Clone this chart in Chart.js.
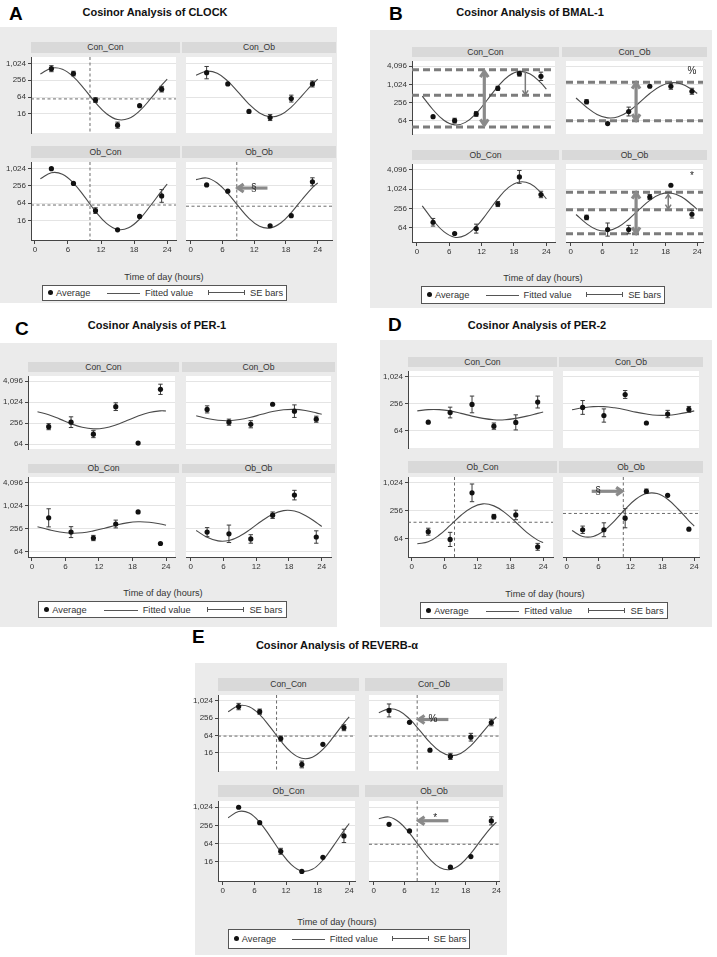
<!DOCTYPE html>
<html>
<head>
<meta charset="utf-8">
<title>Cosinor analysis</title>
<script src="https://cdn.jsdelivr.net/npm/chart.js@4.4.1/dist/chart.umd.min.js"></script>
<style>
  body { margin: 0; width: 717px; height: 957px; position: relative; overflow: hidden; background: #fff;
         font-family: "Liberation Sans", Arial, Helvetica, sans-serif; color: #222; }
  .abs { position: absolute; }
  .bg { background: #ebebeb; }
  .hdr { background: #d9d9d9; text-align: center; font-size: 8.6px; color: #333; }
  .letter { font-size: 19px; line-height: 19px; font-weight: bold; color: #000; }
  .title { font-size: 11px; font-weight: bold; transform: translate(-50%, -50%); white-space: nowrap; color: #111; }
  .xtitle { font-size: 9.2px; transform: translate(-50%, -50%); white-space: nowrap; color: #333; }
  .legend { background: #fff; border: 1px solid #555; box-sizing: border-box; }
  .legend span { position: absolute; top: 50%; }
  .legend .lt { font-size: 9.3px; transform: translateY(-50%); white-space: nowrap; color: #333; }
  .legend .dot { width: 5px; height: 5px; border-radius: 50%; background: #111; margin-top: -3px; }
  .legend .ln { height: 1px; background: #555; }
  .legend .se { height: 5px; margin-top: -3px; border-left: 1px solid #555; border-right: 1px solid #555;
                box-sizing: border-box;
                background: linear-gradient(#555, #555) center / 100% 1px no-repeat; }
  canvas { position: absolute; }
</style>
</head>
<body>
<script>
/* ── DATA ───────────────────────────────────────────────────────── */
const HOURS = [3, 7, 11, 15, 19, 23];
const FIT_HOURS = [1, 3, 5, 7, 9, 11, 13, 15, 17, 19, 21, 23, 24];
const GROUPS = ['Con_Con', 'Con_Ob', 'Ob_Con', 'Ob_Ob'];
const X_TICKS = [0, 6, 12, 18, 24];

// one row per group (Con_Con, Con_Ob, Ob_Con, Ob_Ob); SE = top end of the bar
const clockAvg = [
  [667, 446, 50, 6.3, 31.6, 123],
  [481, 189, 19.6, 11.8, 56.5, 189],
  [1024, 313, 35, 7.5, 22, 114],
  [276, 167, null, 10.4, 23.4, 355]
];
const clockSE = [
  [855, 540, 61, 8.1, null, 155],
  [800, null, null, 15.1, 75, 242],
  [null, null, 44, null, null, 190],
  [null, null, null, null, null, 491]
];
const clockFit = [
  [428, 695, 635, 338, 124, 40.5, 16.2, 10, 10.9, 20.5, 56, 171, 282],
  [391, 541, 455, 240, 95, 36, 17.3, 12.5, 14.8, 28, 71, 186, 280],
  [455, 739, 653, 322, 108, 33, 12.6, 7.7, 8.8, 17.8, 53, 172, 294],
  [425, 484, 324, 141, 50, 18.9, 9.9, 8.7, 13, 30, 84, 223, 324]
];

const bmalAvg = [
  [88, 65, 108, 760, 2320, 1900],
  [274, 52, 130, 891, 891, 609],
  [96, 43, 61, 352, 2430, 695],
  [135, 57, 57, 580, 1340, 170]
];
const bmalSE = [
  [null, 78, 129, 891, 2780, 2610],
  [322, null, 182, null, 1120, 765],
  [126, null, 84, 422, 3850, 873],
  [159, 91, 77, 695, null, 223]
];
const bmalFit = [
  [422, 149, 67, 47, 57, 113, 307, 867, 1940, 2760, 2270, 1145, 714],
  [364, 181, 104, 80, 87, 133, 254, 512, 891, 1160, 1060, 695, 512],
  [309, 111, 49, 33, 38, 70, 182, 508, 1150, 1700, 1490, 798, 508],
  [167, 87, 56, 52, 68, 119, 239, 458, 704, 771, 588, 335, 239]
];

const per1Avg = [
  [202, 272, 123, 760, 68, 2400],
  [635, 272, 237, 891, 564, 331],
  [491, 207, 145, 338, 700, 104],
  [207, 187, 137, 576, 1940, 154]
];
const per1SE = [
  [247, 388, 155, 982, null, 3370],
  [803, 333, 300, null, 855, 405],
  [849, 288, 170, 428, null, null],
  [272, 317, 177, 700, 2590, 224]
];
const per1Fit = [
  [545, 446, 333, 246, 194, 175, 185, 226, 302, 410, 519, 576, 572],
  [416, 347, 309, 300, 324, 377, 458, 549, 617, 635, 588, 505, 458],
  [288, 241, 208, 194, 199, 223, 261, 313, 362, 388, 377, 338, 313],
  [228, 152, 122, 125, 163, 251, 407, 609, 760, 739, 568, 370, 290]
];

const per2Avg = [
  [98, 161, 244, 80, 97, 276],
  [209, 138, 407, 94, 149, 189],
  [91, 62, 621, 191, 208, 43],
  [100, 100, 177, 671, 549, 103]
];
const per2SE = [
  [null, 212, 375, 94, 143, 375],
  [298, 194, 498, null, 180, 220],
  [108, 88, 962, 214, 263, 51],
  [120, 141, 284, 750, null, null]
];
const per2Fit = [
  [175, 187, 187, 175, 154, 134, 119, 111, 111, 119, 134, 154, 165],
  [186, 205, 218, 218, 205, 186, 164, 149, 140, 140, 149, 164, 175],
  [50, 55, 77, 124, 205, 302, 360, 326, 234, 145, 88, 60, 53],
  [96, 72, 72, 96, 156, 276, 452, 600, 600, 452, 276, 156, 120]
];

const reverbAvg = [
  [650, 430, 49, 6.1, 31, 118],
  [475, 182, 19.3, 11.7, 55, 180],
  [1024, 313, 35, 7.5, 22, 114],
  [276, 167, null, 10.4, 23.4, 360]
];
const reverbSE = [
  [840, 530, 60, 8, null, 150],
  [800, null, null, 15, 75, 235],
  [null, null, 44, null, null, 190],
  [null, null, null, null, null, 491]
];
const reverbFit = [
  [428, 695, 635, 338, 124, 40.5, 16.2, 10, 10.9, 20.5, 56, 171, 282],
  [391, 541, 455, 240, 95, 36, 17.3, 12.5, 14.8, 28, 71, 186, 280],
  [455, 739, 653, 322, 108, 33, 12.6, 7.7, 8.8, 17.8, 53, 172, 294],
  [425, 484, 324, 141, 50, 18.9, 9.9, 8.7, 13, 30, 84, 223, 324]
];

// reference lines, arrows and symbols, in data units (hour, value)
const clockMarks = [
  { vline: 10, hline: 55 },
  {},
  { vline: 10, hline: 55 },
  { vline: 8.7, hline: 50, arrows: [[14.5, 215, 8.9, 215, 'end', 'big']], text: [['§', 11.9, 215]] }
];
const bmalMarks = [
  { bands: [3120, 452, 40], arrows: [[12.5, 2780, 12.5, 46, 'both', 'big'], [20.1, 2640, 20.1, 474, 'end', 'small']] },
  { bands: [1200, 65], arrows: [[12.4, 1150, 12.4, 68, 'both', 'big']], text: [['%', 23, 2780]] },
  {},
  { bands: [815, 234, 42], arrows: [[12.4, 780, 12.4, 44, 'both', 'big'], [18.5, 695, 18.5, 250, 'both', 'small']], text: [['*', 23, 2600]] }
];
const per1Marks = [{}, {}, {}, {}];
const per2Marks = [
  {}, {},
  { vline: 7.8, hline: 145 },
  { vline: 10.65, hline: 224, arrows: [[4.7, 671, 10.4, 671, 'end', 'big']], text: [['§', 5.9, 671]] }
];
const reverbMarks = [
  { vline: 10.2, hline: 60 },
  { vline: 8.5, hline: 60, arrows: [[14.6, 229, 8.8, 229, 'end', 'big']], text: [['%', 11.6, 229]] },
  {},
  { vline: 8.5, hline: 60, arrows: [[14.6, 364, 8.8, 364, 'end', 'big']], text: [['*', 12, 440]] }
];

/* ── PAGE LAYOUT ─────────────────────────────────────────────── */
const PANELS = [
  { letter: 'A', title: 'Cosinor Analysis of CLOCK', avg: clockAvg, se: clockSE, fit: clockFit, marks: clockMarks,
    yTicks: [16, 64, 256, 1024], yRange: [3.3, 1750],
    box: [0, 27, 337, 276], letterAt: [9, 4], titleAt: [155, 12],
    cols: [[31, 180, -0.7, 25.6], [182, 336, -0.9, 26.7]],
    rows: [[42, 53, 137], [146, 158, 240]],
    xTitleAt: [164, 277], legendBox: [42, 285, 245, 16] },
  { letter: 'B', title: 'Cosinor Analysis of BMAL-1', avg: bmalAvg, se: bmalSE, fit: bmalFit, marks: bmalMarks,
    yTicks: [64, 256, 1024, 4096], yRange: [23.5, 6100],
    box: [370, 30, 342, 278], letterAt: [389, 4], titleAt: [530, 12],
    cols: [[412, 559, -0.9, 25.6], [562, 707, -0.9, 25.1]],
    rows: [[47, 57, 138], [150, 160, 242]],
    xTitleAt: [543, 278], legendBox: [421, 286, 244, 18] },
  { letter: 'C', title: 'Cosinor Analysis of PER-1', avg: per1Avg, se: per1SE, fit: per1Fit, marks: per1Marks,
    yTicks: [64, 256, 1024, 4096], yRange: [46, 5800],
    box: [0, 343, 337, 284], letterAt: [15, 319], titleAt: [157, 325],
    cols: [[28, 179, -0.7, 25.6], [182, 335, -0.87, 25.7]],
    rows: [[362, 372, 453], [464, 473, 557]],
    xTitleAt: [163, 593], legendBox: [38, 601, 249, 17] },
  { letter: 'D', title: 'Cosinor Analysis of PER-2', avg: per2Avg, se: per2SE, fit: per2Fit, marks: per2Marks,
    yTicks: [64, 256, 1024], yRange: [26, 1360],
    box: [380, 340, 332, 287], letterAt: [388, 315], titleAt: [537, 325],
    cols: [[408, 557, -0.7, 25.8], [559, 703, -0.7, 24.9]],
    rows: [[357, 367, 452], [461, 473, 557]],
    xTitleAt: [545, 594], legendBox: [420, 602, 248, 17] },
  { letter: 'E', title: 'Cosinor Analysis of REVERB-α', avg: reverbAvg, se: reverbSE, fit: reverbFit, marks: reverbMarks,
    yTicks: [16, 64, 256, 1024], yRange: [3.6, 1650],
    box: [195, 663, 312, 292], letterAt: [192, 627], titleAt: [337, 645],
    cols: [[218, 359, -0.92, 25.1], [365, 503, -0.92, 24.5]],
    rows: [[678, 691, 775], [785, 797, 881]],
    xTitleAt: [337, 922], legendBox: [228, 929, 242, 20] }
];

function el(cls, x, y, w, h, html) {
  const d = document.createElement('div');
  d.className = 'abs ' + cls;
  d.style.left = x + 'px';
  d.style.top = y + 'px';
  if (w != null) d.style.width = w + 'px';
  if (h != null) { d.style.height = h + 'px'; d.style.lineHeight = h + 'px'; }
  if (html != null) d.innerHTML = html;
  document.body.appendChild(d);
  return d;
}

function addLegend([x, y, w, h]) {
  const box = el('legend', x, y, w, h);
  box.style.lineHeight = 'normal';
  const k = w / 245;
  box.innerHTML = `
    <span class="dot" style="left:${5 * k}px"></span>
    <span class="lt" style="left:${13 * k}px">Average</span>
    <span class="ln" style="left:${64 * k}px;width:${33 * k}px"></span>
    <span class="lt" style="left:${102 * k}px">Fitted value</span>
    <span class="se" style="left:${165 * k}px;width:${37 * k}px"></span>
    <span class="lt" style="left:${207 * k}px">SE bars</span>`;
}

/* ── DRAWING HELPERS ─────────────────────────────────────────── */
function drawArrow(ctx, x1, y1, x2, y2, heads, big) {
  ctx.strokeStyle = big ? '#8a8a8a' : '#7a7a7a';
  ctx.lineWidth = big ? 3.2 : 1.5;
  ctx.lineCap = 'butt';
  ctx.beginPath(); ctx.moveTo(x1, y1); ctx.lineTo(x2, y2); ctx.stroke();
  const hs = big ? 7 : 5;
  const barb = (xa, ya, xb, yb) => {
    const ang = Math.atan2(yb - ya, xb - xa);
    ctx.beginPath();
    ctx.moveTo(xb - hs * Math.cos(ang - 0.6), yb - hs * Math.sin(ang - 0.6));
    ctx.lineTo(xb, yb);
    ctx.lineTo(xb - hs * Math.cos(ang + 0.6), yb - hs * Math.sin(ang + 0.6));
    ctx.stroke();
  };
  barb(x1, y1, x2, y2);
  if (heads === 'both') barb(x2, y2, x1, y1);
}

function cosinorPlugin(avg, se, mk) {
  return {
    id: 'cosinor',
    beforeDraw(chart) {
      const { ctx, chartArea: a } = chart;
      ctx.save();
      ctx.fillStyle = '#fff';
      ctx.fillRect(a.left, a.top, a.width, a.height);
      ctx.restore();
    },
    beforeDatasetsDraw(chart) {
      const { ctx, chartArea: a, scales: { x: xs, y: ys } } = chart;
      ctx.save();
      ctx.beginPath(); ctx.rect(a.left, a.top, a.width, a.height); ctx.clip();
      // thick dashed level lines
      (mk.bands || []).forEach(v => {
        const y = ys.getPixelForValue(v);
        ctx.strokeStyle = '#7c7c7c'; ctx.lineWidth = 3; ctx.setLineDash([7, 4]);
        ctx.beginPath(); ctx.moveTo(a.left, y); ctx.lineTo(a.right, y); ctx.stroke();
      });
      // mesor / acrophase reference lines
      ctx.strokeStyle = '#5a5a5a'; ctx.lineWidth = 0.9; ctx.setLineDash([3, 2.5]);
      if (mk.hline != null) {
        const y = ys.getPixelForValue(mk.hline);
        ctx.beginPath(); ctx.moveTo(a.left, y); ctx.lineTo(a.right, y); ctx.stroke();
      }
      if (mk.vline != null) {
        const x = xs.getPixelForValue(mk.vline);
        ctx.beginPath(); ctx.moveTo(x, a.top); ctx.lineTo(x, a.bottom); ctx.stroke();
      }
      ctx.setLineDash([]);
      // SE bars (symmetric on the log scale)
      ctx.strokeStyle = '#3a3a3a'; ctx.lineWidth = 1;
      HOURS.forEach((h, i) => {
        if (se[i] == null || avg[i] == null) return;
        const lo = avg[i] * avg[i] / se[i];
        const x = xs.getPixelForValue(h);
        const yt = ys.getPixelForValue(se[i]), yb = ys.getPixelForValue(lo);
        ctx.beginPath();
        ctx.moveTo(x, yt); ctx.lineTo(x, yb);
        ctx.moveTo(x - 2.2, yt); ctx.lineTo(x + 2.2, yt);
        ctx.moveTo(x - 2.2, yb); ctx.lineTo(x + 2.2, yb);
        ctx.stroke();
      });
      ctx.restore();
    },
    afterDatasetsDraw(chart) {
      const { ctx, scales: { x: xs, y: ys } } = chart;
      ctx.save();
      (mk.arrows || []).forEach(([x1, y1, x2, y2, heads, kind]) => {
        drawArrow(ctx, xs.getPixelForValue(x1), ys.getPixelForValue(y1),
                  xs.getPixelForValue(x2), ys.getPixelForValue(y2), heads, kind === 'big');
      });
      ctx.fillStyle = '#222';
      ctx.font = '10px "Liberation Sans", Arial, sans-serif';
      ctx.textAlign = 'center'; ctx.textBaseline = 'middle';
      (mk.text || []).forEach(([t, x, y]) => {
        ctx.fillText(t, xs.getPixelForValue(x), ys.getPixelForValue(y));
      });
      ctx.restore();
    }
  };
}

/* ── ONE FACET ───────────────────────────────────────────────── */
function addFacet(p, gi) {
  const col = gi % 2, row = gi >> 1;
  const [pl, pr, xMin, xMax] = p.cols[col];
  const [hTop, top, bot] = p.rows[row];
  const padL = col === 0 ? 30 : 0;
  const padB = row === 1 ? 18 : 0;

  el('hdr', pl, hTop, pr - pl, top - hTop, GROUPS[gi]);

  const cv = document.createElement('canvas');
  cv.width = pr - pl + padL;
  cv.height = bot - top + padB;
  cv.style.left = (pl - padL) + 'px';
  cv.style.top = top + 'px';
  document.body.appendChild(cv);

  const avg = p.avg[gi], se = p.se[gi], fit = p.fit[gi];
  const tickFont = { family: '"Liberation Sans", Arial, sans-serif', size: 8 };

  new Chart(cv, {
    data: {
      datasets: [
        {
          type: 'scatter',
          data: HOURS.map((h, i) => ({ x: h, y: avg[i] })).filter(d => d.y != null),
          pointRadius: 2.6, pointBackgroundColor: '#111', pointBorderWidth: 0
        },
        {
          type: 'line',
          data: FIT_HOURS.map((h, i) => ({ x: h, y: fit[i] })),
          borderColor: '#4a4a4a', borderWidth: 1.1, pointRadius: 0, tension: 0.4, fill: false
        }
      ]
    },
    options: {
      responsive: false, animation: false, events: [],
      layout: { padding: 0 },
      plugins: { legend: { display: false }, tooltip: { enabled: false } },
      scales: {
        x: {
          type: 'linear', min: xMin, max: xMax, display: row === 1,
          afterBuildTicks: s => { s.ticks = X_TICKS.map(v => ({ value: v })); },
          afterFit: s => { s.height = padB; s.paddingLeft = s.paddingRight = 0; },
          ticks: { font: tickFont, color: '#333', padding: 1, maxRotation: 0 },
          grid: { drawOnChartArea: false, tickLength: 4, tickColor: '#444' },
          border: { color: '#444' }
        },
        y: {
          type: 'logarithmic', min: p.yRange[0], max: p.yRange[1],
          afterBuildTicks: s => { s.ticks = p.yTicks.map(v => ({ value: v })); },
          afterFit: s => { s.width = padL; s.paddingTop = s.paddingBottom = 0; },
          ticks: { display: col === 0, font: tickFont, color: '#333', padding: 2,
                   callback: v => Number(v).toLocaleString('en-US') },
          grid: { color: '#e4e4e4', lineWidth: 1, drawTicks: col === 0, tickLength: 3, tickColor: '#444' },
          border: { display: col === 0, color: '#444' }
        }
      }
    },
    plugins: [cosinorPlugin(avg, se, p.marks[gi])]
  });
}

/* ── BUILD ───────────────────────────────────────────────────── */
PANELS.forEach(p => {
  const [bx, by, bw, bh] = p.box;
  el('bg', bx, by, bw, bh);
  el('letter', p.letterAt[0], p.letterAt[1], null, null, p.letter);
  el('title', p.titleAt[0], p.titleAt[1], null, null, p.title);
  GROUPS.forEach((g, gi) => addFacet(p, gi));
  el('xtitle', p.xTitleAt[0], p.xTitleAt[1], null, null, 'Time of day (hours)');
  addLegend(p.legendBox);
});
</script>
</body>
</html>
